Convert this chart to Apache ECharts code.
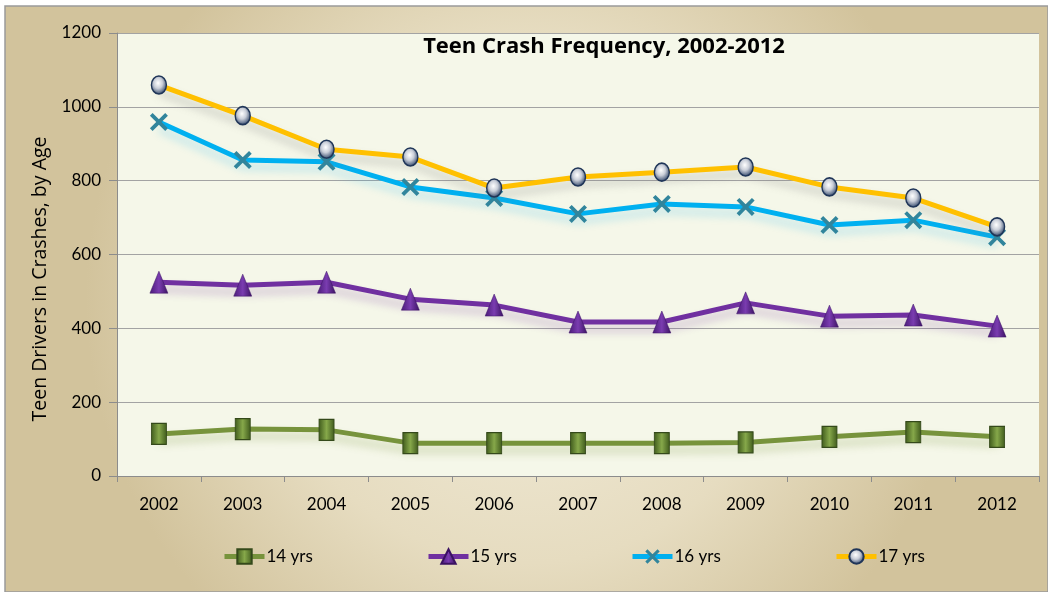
<!DOCTYPE html>
<html><head><meta charset="utf-8">
<script src="https://cdn.jsdelivr.net/npm/echarts@6/dist/echarts.min.js"></script>
<style>html,body{margin:0;padding:0;background:#fff}#c{width:1048px;height:592px}</style>
</head><body><div id="c"></div>
<script>
var years = ['2002','2003','2004','2005','2006','2007','2008','2009','2010','2011','2012'];
var seriesNames = ['14 yrs','15 yrs','16 yrs','17 yrs'];
var yrs14 = [114,127,125,89,89,89,89,91,106,119,106];
var yrs15 = [525,517,525,479,463,417,417,469,433,436,406];
var yrs16 = [959,856,851,783,753,710,737,729,680,693,647];
var yrs17 = [1059,976,885,864,780,810,823,837,783,753,675];
var yTicks = [0,200,400,600,800,1000,1200];
var yAxisTitle = 'Teen Drivers in Crashes, by Age';

var chart = echarts.init(document.getElementById('c'));
var crossPath = 'path://M0,1.5L1.5,0L5,3.5L8.5,0L10,1.5L6.5,5L10,8.5L8.5,10L5,6.5L1.5,10L0,8.5L3.5,5Z';
function sh(c){return {shadowColor:c,shadowBlur:8,shadowOffsetY:7};}
var option = {
  animation:false,
  backgroundColor:'#ffffff',
  graphic:[{
    type:'rect', z:-10, silent:true,
    shape:{x:5,y:6,width:1043,height:586},
    style:{
      fill:new echarts.graphic.RadialGradient(0.5,0.5,0.75,[
        {offset:0,color:'#f3eedd'},{offset:0.6,color:'#e6dcc0'},{offset:1,color:'#d2c39c'}]),
      stroke:'#9a9a9a', lineWidth:1.5
    }
  },{
    type:'text', x:40, y:279, rotation:Math.PI/2, silent:true,
    style:{text:yAxisTitle, fontFamily:'Open Sans', fontSize:19.5, fill:'#000',
      align:'center', verticalAlign:'middle'}
  }],
  title:{
    text:'Teen Crash Frequency, 2002-2012',
    left:599, top:31, textAlign:'center',
    textStyle:{fontFamily:'Open Sans',fontWeight:'bold',fontSize:22,color:'#000'}
  },
  legend:[0,1,2,3].map(function(i){
    return {data:[seriesNames[i]], left:222+204*i, top:548, padding:0, itemWidth:40, itemHeight:18, itemGap:0,
      lineStyle:{width:5},
      textStyle:{fontFamily:'Lato',fontSize:17,color:'#000',padding:[0,0,0,-3]}};
  }),
  grid:{left:117,top:33,right:9,bottom:116,show:true,backgroundColor:'#f5f7e9',borderWidth:0},
  xAxis:{
    type:'category', data:years, boundaryGap:true,
    axisLine:{lineStyle:{color:'#8c8c8c',width:1}},
    axisTick:{show:true,length:6,alignWithLabel:false,lineStyle:{color:'#8c8c8c'}},
    axisLabel:{margin:20,fontFamily:'Lato',fontSize:17,color:'#000'}
  },
  yAxis:{
    type:'value', min:0, max:1200, interval:200,
    axisLine:{show:true,lineStyle:{color:'#8c8c8c'}},
    axisTick:{show:true,length:8,lineStyle:{color:'#8c8c8c'}},
    splitLine:{lineStyle:{color:'#a3a3a3',width:1.2}},
    axisLabel:{margin:16,fontFamily:'Lato',fontSize:17,color:'#000',
      formatter:function(v){return yTicks.indexOf(v)>=0?String(v):'';}}
  },
  series:[
    {name:seriesNames[0],type:'line',data:yrs14,symbol:'rect',symbolSize:[15,21],
      lineStyle:Object.assign({color:'#77933c',width:5},sh('rgba(119,147,60,0.35)')),
      itemStyle:{color:new echarts.graphic.LinearGradient(0,0,1,0,[{offset:0,color:'#3f5a1c'},{offset:0.5,color:'#86a84a'},{offset:1,color:'#3f5a1c'}]),borderColor:'#34491a',borderWidth:1}},
    {name:seriesNames[1],type:'line',data:yrs15,symbol:'triangle',symbolSize:[18,22],
      lineStyle:Object.assign({color:'#7030a0',width:5},sh('rgba(112,48,160,0.3)')),
      itemStyle:{color:new echarts.graphic.LinearGradient(0,0,1,0,[{offset:0,color:'#4a1a78'},{offset:0.5,color:'#7a3cb0'},{offset:1,color:'#3b1262'}]),borderColor:'#3b1262',borderWidth:0.5}},
    {name:seriesNames[2],type:'line',data:yrs16,symbol:crossPath,symbolSize:18,
      lineStyle:Object.assign({color:'#00b0f0',width:5},sh('rgba(0,176,240,0.25)')),
      itemStyle:{color:'#31859c',borderColor:'#31859c',borderWidth:0}},
    {name:seriesNames[3],type:'line',data:yrs17,symbol:'circle',symbolSize:[15,18],
      lineStyle:Object.assign({color:'#ffc000',width:5},sh('rgba(120,120,120,0.35)')),
      itemStyle:{color:new echarts.graphic.RadialGradient(0.45,0.4,0.6,[{offset:0,color:'#ffffff'},{offset:0.45,color:'#c9ced8'},{offset:1,color:'#2c4266'}]),borderColor:'#1f3558',borderWidth:1.5}}
  ]
};
chart.setOption(option);
</script></body></html>
